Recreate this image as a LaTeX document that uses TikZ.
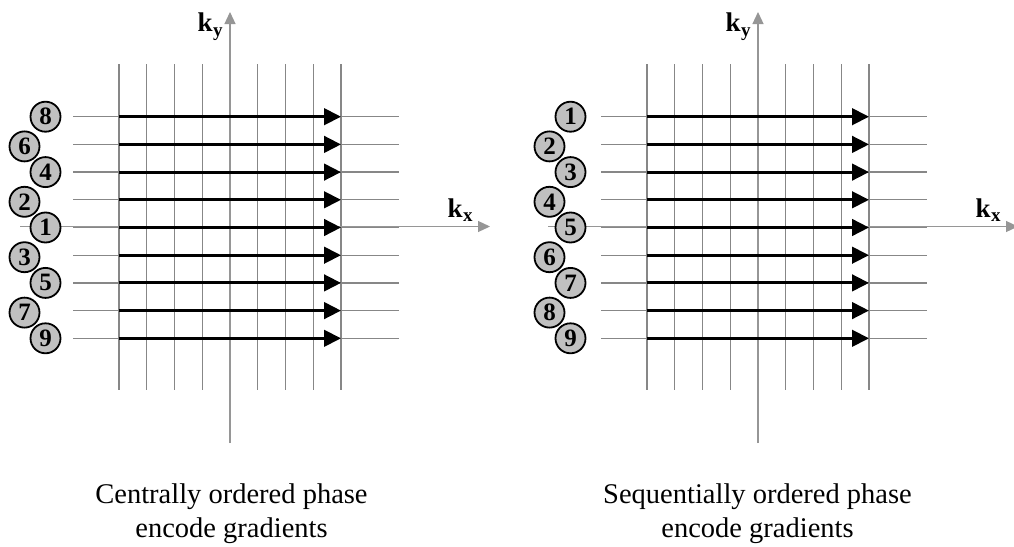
\documentclass[tikz,border=0pt]{standalone}
\usepackage{fontspec}
\setmainfont{Liberation Serif}
\usetikzlibrary{arrows.meta}
\definecolor{gridgray}{RGB}{135,135,135}
\definecolor{axisgray}{RGB}{150,150,150}
\definecolor{circfill}{RGB}{192,192,192}
\newcommand{\kpanel}[4]{% #1 grid x shift, #2 name prefix, #3 circle list, #4 circle x shift
  \begin{scope}[shift={(#1,0)}]
    \foreach \i in {0,...,8}
      \draw[gridline] ({119+27.75*\i},64) -- ({119+27.75*\i},390);
    \foreach \j in {0,...,8}
      \draw[gridline] (73,{116.7+27.7*\j}) -- (399,{116.7+27.7*\j});
    \coordinate (#2xs) at (20,226.5);
    \coordinate (#2xe) at (490,226.5);
    \coordinate (#2ys) at (230,443);
    \coordinate (#2ye) at (230,12);
    \draw[axisline] (#2xs) -- (#2xe);
    \draw[axisline] (#2ys) -- (#2ye);
    \foreach \j in {0,...,8} {
      \coordinate (#2a\j) at (119,{116.7+27.7*\j});
      \coordinate (#2b\j) at (341,{116.7+27.7*\j});
      \draw[scanline] (#2a\j) -- (#2b\j);
    }
    \node[axlabel] (#2ky) at (197.5,31.7) {k\kern0.3pt\raisebox{-4.5pt}{\fontsize{19}{19}\selectfont y}};
    \node[axlabel] (#2kx) at (447.5,217) {k\kern0.3pt\raisebox{-4.5pt}{\fontsize{19}{19}\selectfont x}};
  \end{scope}
  \begin{scope}[shift={(#4,0)}]
    \foreach \n/\cx/\dy [count=\j from 0] in {#3}
      \node[numcirc] (#2c\n) at (\cx,{116.7+27.7*\j+\dy}) {\n};
  \end{scope}
}
\begin{document}
\begin{tikzpicture}[x=1pt,y=-1pt,
  gridline/.style={draw=gridgray, line width=1.3pt},
  axisline/.style={draw=axisgray, line width=1.2pt, -{Triangle[length=12pt,width=11pt]}},
  scanline/.style={draw=black, line width=3pt, -{Triangle[length=17pt,width=16.5pt]}},
  numcirc/.style={circle, draw=black, line width=1.8pt, fill=circfill, minimum size=30pt, inner sep=0pt, font=\fontsize{25}{25}\selectfont\bfseries},
  axlabel/.style={font=\fontsize{27}{27}\selectfont\bfseries, inner sep=0pt, anchor=base west},
  caption/.style={font=\fontsize{28.5}{34}\selectfont, anchor=base, inner sep=0pt}]
\useasboundingbox (0,0) rectangle (1014,546);
\fill[white] (0,0) rectangle (1014,546);

\kpanel{0}{L}{8/45.5/0, 6/24.5/2, 4/45.5/0, 2/24.5/2, 1/45.5/0, 3/24.5/2, 5/45.5/0, 7/24.5/2, 9/45.5/0}{0}
\kpanel{528}{R}{1/45.5/0, 2/24.5/2, 3/45.5/0, 4/24.5/2, 5/45.5/0, 6/24.5/2, 7/45.5/0, 8/24.5/2, 9/45.5/0}{525}

\node[caption] (capL1) at (231.5,503) {Centrally ordered phase};
\node[caption] (capL2) at (231.5,537) {encode gradients};
\node[caption] (capR1) at (757.5,503) {Sequentially ordered phase};
\node[caption] (capR2) at (757.5,537) {encode gradients};
\end{tikzpicture}
\end{document}
